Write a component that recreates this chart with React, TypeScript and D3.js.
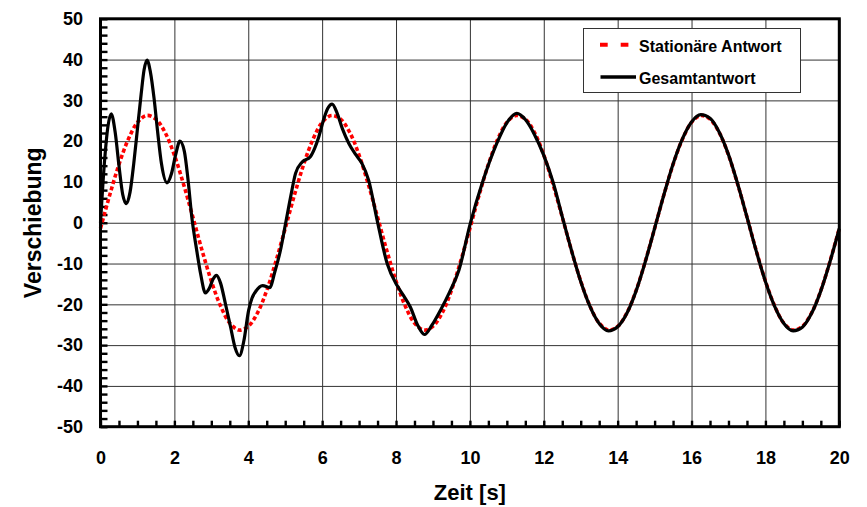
import React, { useEffect, useRef } from 'react';
import * as d3 from 'd3';

const statTime = [
  0, 0.25, 0.5, 0.75, 1, 1.25, 1.5, 1.75, 2, 2.25, 2.5, 2.75, 3, 3.25, 3.5, 3.75, 4, 4.25, 4.5, 4.75,
  5, 5.25, 5.5, 5.75, 6, 6.25, 6.5, 6.75, 7, 7.25, 7.5, 7.75, 8, 8.25, 8.5, 8.75, 9, 9.25, 9.5, 9.75,
  10, 10.25, 10.5, 10.75, 11, 11.25, 11.5, 11.75, 12, 12.25, 12.5, 12.75, 13, 13.25, 13.5, 13.75, 14, 14.25, 14.5, 14.75,
  15, 15.25, 15.5, 15.75, 16, 16.25, 16.5, 16.75, 17, 17.25, 17.5, 17.75, 18, 18.25, 18.5, 18.75, 19, 19.25, 19.5, 19.75,
  20,
];
const statDisp = [
  -1.4, 6.8, 14.3, 20.4, 24.6, 26.3, 25.4, 22.1, 16.6, 9.4, 1.4, -6.8, -14.3, -20.4, -24.6, -26.3, -25.4, -22.1, -16.6, -9.4,
  -1.4, 6.8, 14.3, 20.4, 24.6, 26.3, 25.4, 22.1, 16.6, 9.4, 1.4, -6.8, -14.3, -20.4, -24.6, -26.3, -25.4, -22.1, -16.6, -9.4,
  -1.4, 6.8, 14.3, 20.4, 24.6, 26.3, 25.4, 22.1, 16.6, 9.4, 1.4, -6.8, -14.3, -20.4, -24.6, -26.3, -25.4, -22.1, -16.6, -9.4,
  -1.4, 6.8, 14.3, 20.4, 24.6, 26.3, 25.4, 22.1, 16.6, 9.4, 1.4, -6.8, -14.3, -20.4, -24.6, -26.3, -25.4, -22.1, -16.6, -9.4,
  -1.4,
];

// Gesamtantwort (mit Einschwingvorgang)
const totalTime = [
  0, 0.1, 0.2, 0.29, 0.4, 0.5, 0.6, 0.7, 0.8, 0.9, 1.0, 1.1, 1.18, 1.26, 1.35, 1.45, 1.55, 1.65, 1.8, 1.92,
  2.03, 2.15, 2.27, 2.37, 2.47, 2.6, 2.71, 2.84, 2.95, 3.05, 3.14, 3.25, 3.38, 3.52, 3.64, 3.76, 3.88, 4.01, 4.1, 4.19,
  4.39, 4.58, 4.72, 4.87, 5.01, 5.15, 5.28, 5.46, 5.68, 5.8, 5.91, 6.03, 6.15, 6.27, 6.4, 6.55, 6.72, 6.9, 7.08, 7.26,
  7.49, 7.76, 8.03, 8.2, 8.39, 8.58, 8.77, 8.98, 9.2, 9.45, 9.7, 10.01, 10.33, 10.73, 11.0, 11.27, 11.5, 11.75, 12.0, 12.25,
  12.5, 12.75, 13, 13.25, 13.5, 13.75, 14, 14.25, 14.5, 14.75, 15, 15.25, 15.5, 15.75, 16, 16.25, 16.5, 16.75, 17, 17.25,
  17.5, 17.75, 18, 18.25, 18.5, 18.75, 19, 19.25, 19.5, 19.75, 20,
];
const totalDisp = [
  0, 14, 23.5, 26.7, 22, 14, 7, 4.7, 7.5, 14.5, 23, 31.5, 37.5, 39.9, 37, 30.5, 22, 14.5, 9.8, 12,
  16.5, 20.0, 17.5, 10.5, 1.5, -6.5, -12.5, -17.2, -16, -13.8, -12.9, -14.8, -19.8, -25.5, -30.5, -32.6, -29, -21.5, -18.5, -17,
  -15.4, -15.9, -12, -6.8, -0.2, 6.5, 12.1, 14.9, 16.2, 18.3, 21.1, 25, 28, 29.1, 27, 23, 19.5, 16.8, 14.5, 10.4,
  0.6, -10.0, -15.4, -17.8, -20.7, -25, -27.4, -25, -21.5, -17, -11.7, -0.2, 9.6, 19.5, 24.5, 26.8, 25.3, 21.6, 16.5, 10,
  1.5, -6.8, -14.4, -20.5, -24.7, -26.5, -25.5, -22.2, -16.7, -9.5, -1.4, 6.8, 14.4, 20.5, 24.7, 26.5, 25.6, 22.2, 16.7, 9.5,
  1.4, -6.9, -14.4, -20.5, -24.7, -26.5, -25.6, -22.2, -16.7, -9.5, -1.4,
];

const xMajor = [0, 2, 4, 6, 8, 10, 12, 14, 16, 18, 20];
const yMajor = [-50, -40, -30, -20, -10, 0, 10, 20, 30, 40, 50];

const W = 867;
const H = 507;
const left = 100.5, right = 839.3, top = 18.8, bottom = 426.7;
const font = '"Liberation Sans", Arial, sans-serif';

export default function App() {
  const ref = useRef<SVGSVGElement>(null);

  useEffect(() => {
    const svg = d3.select(ref.current);
    svg.selectAll('*').remove();

    const x = d3.scaleLinear().domain([0, 20]).range([left, right]);
    const y = d3.scaleLinear().domain([-50, 50]).range([bottom, top]);

    svg.append('rect').attr('width', W).attr('height', H).attr('fill', 'white');

    // Gitter
    const gx = svg.append('g').attr('transform', `translate(0,${bottom})`)
      .call(d3.axisBottom(x).tickValues(xMajor).tickSize(-(bottom - top)).tickFormat(() => ''));
    const gy = svg.append('g').attr('transform', `translate(${left},0)`)
      .call(d3.axisLeft(y).tickValues(yMajor).tickSize(-(right - left)).tickFormat(() => ''));
    [gx, gy].forEach(g => {
      g.select('.domain').remove();
      g.selectAll('line').attr('stroke', '#333').attr('stroke-width', 1);
    });

    // kleine Teilstriche
    const mx = svg.append('g').attr('transform', `translate(0,${bottom})`)
      .call(d3.axisBottom(x).tickValues(d3.range(0, 20.01, 0.5)).tickSize(-6).tickFormat(() => ''));
    const my = svg.append('g').attr('transform', `translate(${left},0)`)
      .call(d3.axisLeft(y).tickValues(d3.range(-50, 50.01, 2)).tickSize(-7).tickFormat(() => ''));
    [mx, my].forEach(g => {
      g.select('.domain').remove();
      g.selectAll('line').attr('stroke', '#000').attr('stroke-width', 2.4);
    });

    // Kurven
    const stat = statTime.map((t, i) => [t, statDisp[i]] as [number, number]);
    const total = totalTime.map((t, i) => [t, totalDisp[i]] as [number, number]);

    const lineStat = d3.line<[number, number]>()
      .x(d => x(d[0])).y(d => y(d[1])).curve(d3.curveCatmullRom.alpha(0.5));
    const lineTotal = d3.line<[number, number]>()
      .x(d => x(d[0])).y(d => y(d[1])).curve(d3.curveMonotoneX);

    svg.append('path').datum(stat).attr('d', lineStat)
      .attr('fill', 'none').attr('stroke', '#ff0000').attr('stroke-width', 3.6)
      .attr('stroke-dasharray', '4 2.6');
    svg.append('path').datum(total).attr('d', lineTotal)
      .attr('fill', 'none').attr('stroke', '#000').attr('stroke-width', 3.2)
      .attr('stroke-linejoin', 'round');

    // Rahmen
    svg.append('rect').attr('x', left).attr('y', top)
      .attr('width', right - left).attr('height', bottom - top)
      .attr('fill', 'none').attr('stroke', '#000').attr('stroke-width', 3);

    // Beschriftung
    const lx = svg.append('g').attr('transform', `translate(0,${bottom})`)
      .call(d3.axisBottom(x).tickValues(xMajor).tickSize(0).tickPadding(25).tickFormat(d => String(d)));
    const ly = svg.append('g').attr('transform', `translate(${left},0)`)
      .call(d3.axisLeft(y).tickValues(yMajor).tickSize(0).tickPadding(17.5).tickFormat(d => String(d)));
    [lx, ly].forEach(g => {
      g.select('.domain').remove();
      g.selectAll('text').attr('font-family', font).attr('font-weight', 'bold')
        .attr('font-size', 18).attr('fill', '#000');
    });

    svg.append('text').attr('x', (left + right) / 2).attr('y', 500)
      .attr('text-anchor', 'middle').attr('font-family', font).attr('font-weight', 'bold')
      .attr('font-size', 22).text('Zeit [s]');
    svg.append('text').attr('transform', `translate(41,${(top + bottom) / 2}) rotate(-90)`)
      .attr('text-anchor', 'middle').attr('font-family', font).attr('font-weight', 'bold')
      .attr('font-size', 23).text('Verschiebung');

    // Legende
    const lg = svg.append('g');
    lg.append('rect').attr('x', 583.5).attr('y', 28.5).attr('width', 217).attr('height', 64)
      .attr('fill', 'white').attr('stroke', '#333').attr('stroke-width', 1);
    lg.append('line').attr('x1', 600).attr('x2', 629).attr('y1', 44.7).attr('y2', 44.7)
      .attr('stroke', '#ff0000').attr('stroke-width', 4).attr('stroke-dasharray', '7.7 13');
    lg.append('line').attr('x1', 600.5).attr('x2', 636).attr('y1', 77).attr('y2', 77)
      .attr('stroke', '#000').attr('stroke-width', 3.6);
    lg.append('text').attr('x', 639).attr('y', 52.3).attr('font-family', font)
      .attr('font-weight', 'bold').attr('font-size', 16).text('Stationäre Antwort');
    lg.append('text').attr('x', 639).attr('y', 84.3).attr('font-family', font)
      .attr('font-weight', 'bold').attr('font-size', 16).text('Gesamtantwort');
  }, []);

  return (
    <svg ref={ref} width={W} height={H}
      style={{ position: 'absolute', left: 0, top: 0, display: 'block' }} />
  );
}
